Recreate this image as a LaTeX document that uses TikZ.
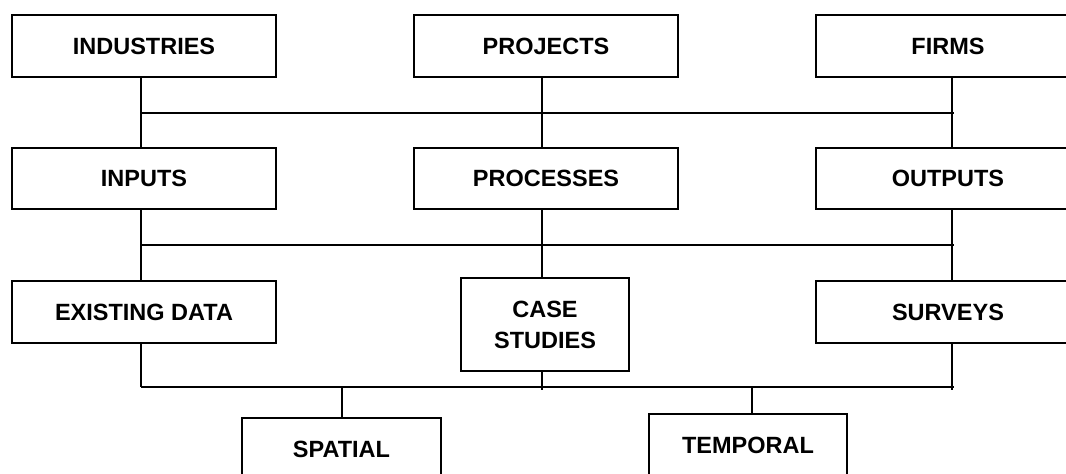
\documentclass[tikz,border=0pt]{standalone}
\usepackage{fontspec}
\setmainfont{Liberation Sans}
\begin{document}
\begin{tikzpicture}[x=1pt,y=-1pt,
  box/.style={draw=black,line width=1.8pt,fill=white,inner sep=0pt,align=center,
    font=\bfseries\fontsize{23.5}{31}\selectfont,text=black},
  wide/.style={box,minimum width=264pt,minimum height=62pt},
  conn/.style={draw=black,line width=1.8pt}]
\fill[white] (0,0) rectangle (1066,474);
\clip (0,0) rectangle (1066,474);
% nodes
\node[wide] (ind)  at (144,46) {INDUSTRIES};
\node[wide] (proj) at (546,46) {PROJECTS};
\node[wide] (firm) at (948,46) {FIRMS};
\node[wide,minimum height=61pt] (inp)  at (144,178.5) {INPUTS};
\node[wide,minimum height=61pt] (proc) at (546,178.5) {PROCESSES};
\node[wide,minimum height=61pt] (outp) at (948,178.5) {OUTPUTS};
\node[wide] (exist) at (144,312) {EXISTING DATA};
\node[box,minimum width=168pt,minimum height=93pt] (case) at (545,324.5) {CASE\\STUDIES};
\node[wide] (surv) at (948,312) {SURVEYS};
\node[box,minimum width=199pt,minimum height=63pt] (spat) at (341.5,449.5) {SPATIAL};
\node[box,minimum width=198pt,minimum height=63pt] (temp) at (748,445.5) {TEMPORAL};
% connector columns and bus rows
\coordinate (cL) at (141,0);
\coordinate (cM) at (542,0);
\coordinate (cR) at (952,0);
\coordinate (cS) at (342,0);
\coordinate (cT) at (752,0);
\coordinate (b1L) at (141,113);
\coordinate (b1R) at (954,113);
\coordinate (b2L) at (141,245);
\coordinate (b2R) at (954,245);
\coordinate (b3L) at (141,387);
\coordinate (b3R) at (954,387);
\coordinate (tM) at (543,390);
\coordinate (tR) at (952,390);
% row 1 -> row 2
\draw[conn] (b1L) -- (b1R);
\draw[conn] (ind.south -| cL) -- (inp.north -| cL);
\draw[conn] (proj.south -| cM) -- (proc.north -| cM);
\draw[conn] (firm.south -| cR) -- (outp.north -| cR);
% row 2 -> row 3
\draw[conn] (b2L) -- (b2R);
\draw[conn] (inp.south -| cL) -- (exist.north -| cL);
\draw[conn] (proc.south -| cM) -- (case.north -| cM);
\draw[conn] (outp.south -| cR) -- (surv.north -| cR);
% row 3 -> row 4
\draw[conn] (b3L) -- (b3R);
\draw[conn] (exist.south -| cL) -- (b3L);
\draw[conn] (case.south -| cM) -- (tM -| cM);
\draw[conn] (surv.south -| cR) -- (tR);
\draw[conn] (b3L -| cS) -- (spat.north -| cS);
\draw[conn] (b3L -| cT) -- (temp.north -| cT);
\end{tikzpicture}
\end{document}
